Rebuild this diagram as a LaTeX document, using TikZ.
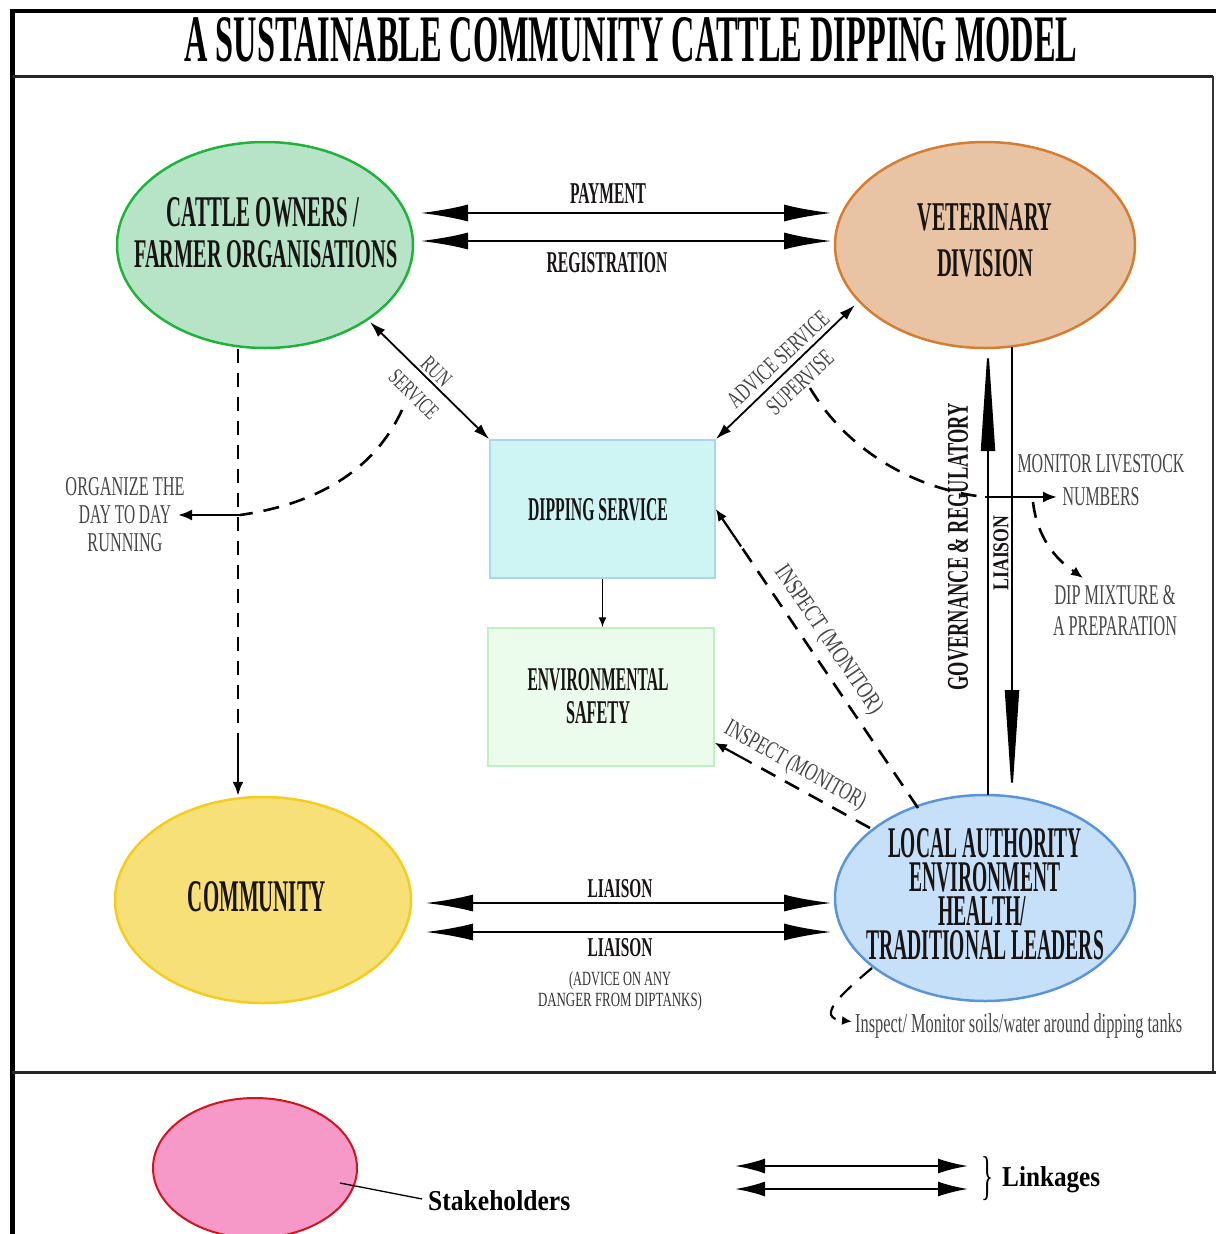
\documentclass[tikz,border=0pt]{standalone}
\usepackage{fontspec}
\setmainfont{Liberation Serif}
\usepackage{graphicx}
\usetikzlibrary{shapes.geometric,arrows.meta,calc}

\definecolor{coFill}{RGB}{183,228,199}
\definecolor{coLine}{RGB}{30,180,60}
\definecolor{vetFill}{RGB}{232,196,164}
\definecolor{vetLine}{RGB}{214,125,50}
\definecolor{comFill}{RGB}{248,224,120}
\definecolor{comLine}{RGB}{245,205,30}
\definecolor{laFill}{RGB}{199,224,250}
\definecolor{laLine}{RGB}{90,150,215}
\definecolor{dipFill}{RGB}{206,244,244}
\definecolor{dipLine}{RGB}{170,215,235}
\definecolor{envFill}{RGB}{235,252,236}
\definecolor{envLine}{RGB}{190,240,195}
\definecolor{pinkFill}{RGB}{247,153,200}
\definecolor{pinkLine}{RGB}{210,20,30}
\definecolor{labGray}{RGB}{70,70,70}
\definecolor{darkTxt}{RGB}{25,20,20}

\newcommand\fitb[3]{\resizebox{#1pt}{#2pt}{\bfseries #3}}
\newcommand\fitr[3]{\resizebox{#1pt}{#2pt}{#3}}

\tikzset{
  stake/.style={ellipse, line width=2.5pt, minimum width=296pt, minimum height=206pt, inner sep=0pt},
  procbox/.style={rectangle, line width=1.5pt, minimum width=225pt, minimum height=138pt, inner sep=0pt},
  lbl/.style={inner sep=0pt, text=darkTxt},
  notetxt/.style={inner sep=0pt, text=labGray},
  twoline/.style={align=center, font=\fontsize{10pt}{32pt}\selectfont},
  linkarrow/.style={line width=2.8pt, {Latex[length=48pt,width=17pt]}-{Latex[length=48pt,width=17pt]}},
  thinlink/.style={line width=1.8pt, {Latex[length=16pt,width=10pt]}-{Latex[length=16pt,width=10pt]}},
  dashline/.style={line width=2.6pt, dash pattern=on 16pt off 11pt},
  vdash/.style={line width=2.4pt, dash pattern=on 14pt off 10pt},
  arr/.style={line width=2.4pt, -{Latex[length=14pt,width=11pt]}},
  smallarr/.style={line width=2.2pt, -{Latex[length=12pt,width=10pt]}},
  vlong/.style={line width=2pt, -{Triangle[length=108pt,width=14pt]}},
  legarrow/.style={line width=2.2pt, {Latex[length=30pt,width=15pt]}-{Latex[length=30pt,width=15pt]}},
}

\begin{document}
\begin{tikzpicture}[x=1pt, y=-1pt]
\useasboundingbox (0,0) rectangle (1216,1234);
\fill[white] (0,0) rectangle (1216,1234);

% frame
\draw[line width=4pt] (10,11) -- (1216,11);
\draw[line width=5pt] (12,9) -- (12,1234);
\draw[line width=3pt, black!85] (12,76) -- (1213,76);
\draw[line width=2pt, black!80] (1213,76) -- (1213,1072);
\draw[line width=3pt, black!85] (12,1072) -- (1216,1072);

% title
\node[lbl, text=black] (title) at (631,40) {\fitb{893}{44}{A SUSTAINABLE COMMUNITY CATTLE DIPPING MODEL}};

% stakeholders
\node[stake, draw=coLine, fill=coFill] (co) at (265,245) {};
\node[stake, draw=vetLine, fill=vetFill, minimum width=300pt] (vet) at (985,245) {};
\node[stake, draw=comLine, fill=comFill] (com) at (263,900) {};
\node[stake, draw=laLine, fill=laFill, minimum width=300pt] (la) at (985,898) {};

\node[lbl] (co1) at (263,212) {\fitb{193}{29}{CATTLE OWNERS /}};
\node[lbl] (co2) at (266,254) {\fitb{263}{27}{FARMER ORGANISATIONS}};
\node[lbl] (vet1) at (985,217) {\fitb{135}{27}{VETERINARY}};
\node[lbl] (vet2) at (985,263) {\fitb{96}{27}{DIVISION}};
\node[lbl] (com1) at (257,897) {\fitb{138}{30}{COMMUNITY}};
\node[lbl] (la1) at (985,843) {\fitb{194}{29}{LOCAL AUTHORITY}};
\node[lbl] (la2) at (985,877) {\fitb{151}{29}{ENVIRONMENT}};
\node[lbl] (la3) at (982,911) {\fitb{88}{29}{HEALTH/}};
\node[lbl] (la4) at (985,945) {\fitb{238}{29}{TRADITIONAL LEADERS}};

% process boxes
\node[procbox, draw=dipLine, fill=dipFill] (dip) at (602.5,509) {};
\node[procbox, draw=envLine, fill=envFill, minimum width=226pt] (env) at (601,697) {};
\node[lbl] (dip1) at (598,510) {\fitb{140}{22}{DIPPING SERVICE}};
\node[lbl] (env1) at (598,680) {\fitb{141}{22}{ENVIRONMENTAL}};
\node[lbl] (env2) at (598,713) {\fitb{64}{22}{SAFETY}};

% linkages top
\draw[linkarrow] ([shift={(155,-32)}]co.center) -- ([shift={(-153,-32)}]vet.center);
\draw[linkarrow] ([shift={(155,-4)}]co.center) -- ([shift={(-153,-4)}]vet.center);
\node[lbl] (pay) at (608,193) {\fitb{76}{20}{PAYMENT}};
\node[lbl] (reg) at (607,263) {\fitb{121}{20}{REGISTRATION}};

% linkages bottom
\draw[linkarrow] ([shift={(162,3)}]com.center) -- ([shift={(-153,5)}]la.center);
\draw[linkarrow] ([shift={(162,32)}]com.center) -- ([shift={(-153,34)}]la.center);
\node[lbl] (li1) at (620,889) {\fitb{65}{18}{LIAISON}};
\node[lbl] (li2) at (620,948) {\fitb{65}{18}{LIAISON}};
\node[notetxt, text=black!80, align=center, font=\fontsize{10pt}{21pt}\selectfont] (adv) at (620,991) {\fitr{102}{14}{(ADVICE ON ANY}\\\fitr{164}{14}{DANGER FROM DIPTANKS)}};

% run service
\draw[thinlink] ([shift={(105,77)}]co.center) -- (dip.north west);
\node[notetxt, twoline, rotate=-44.5] (run) at (425,383) {\fitr{33}{15}{RUN}\\\fitr{60}{15}{SERVICE}};

% advice service
\draw[thinlink] ([shift={(-130,60)}]vet.center) -- (dip.north east);
\node[notetxt, twoline, rotate=43] (advs) at (789,371) {\fitr{130}{16}{ADVICE SERVICE}\\\fitr{82}{16}{SUPERVISE}};

% dipping -> environmental
\draw[line width=1.5pt, -{Latex[length=10pt,width=8pt]}] (dip.south) -- (dip.south |- env.north);

% governance & liaison verticals
\draw[vlong] ([shift={(3,-103)}]la.center) -- ([shift={(3,98)}]vet.center);
\draw[vlong] ([shift={(27,102)}]vet.center) -- ([shift={(27,-100)}]la.center);
\node[lbl, rotate=90] (gov) at (958,547) {\fitb{287}{20}{GOVERNANCE \& REGULATORY}};
\node[lbl, rotate=90] (lv) at (1001,553) {\fitb{75}{15}{LIAISON}};

% cattle owners -> community (dashed)
\coordinate (cd0) at ([xshift=-27pt]co.south);
\coordinate (cd1) at ($(com.north)+(-25,-55)$);
\draw[vdash] (cd0) -- (cd1);
\draw[arr] (cd1) -- ([xshift=-25pt]com.north);

% organize day to day running
\node[notetxt, align=center, font=\fontsize{10pt}{28pt}\selectfont] (org) at (125,515) {\fitr{119}{18}{ORGANIZE THE}\\\fitr{92}{18}{DAY TO DAY}\\\fitr{75}{18}{RUNNING}};
\coordinate (os) at (402,410);
\coordinate (oj) at (240,515);
\draw[dashline] (os) .. controls (372,475) and (310,505) .. (oj);
\draw[arr] (oj) -- (178,515);

% monitor livestock numbers
\node[notetxt, align=center, font=\fontsize{10pt}{33pt}\selectfont] (mon) at (1101,480) {\fitr{167}{18}{MONITOR LIVESTOCK}\\\fitr{77}{18}{NUMBERS}};
\node[notetxt, align=center, font=\fontsize{10pt}{31pt}\selectfont] (dm) at (1115,611) {\fitr{121}{19}{DIP MIXTURE \&}\\\fitr{124}{19}{A PREPARATION}};
\coordinate (ms) at (810,388);
\coordinate (mj) at (985,497);
\coordinate (me) at (1057,497);
\draw[dashline] (ms) .. controls (850,455) and (920,490) .. (mj);
\draw[arr] (mj) -- (me);
\coordinate (mb) at (1033,502);
\coordinate (mbm) at (1072,570);
\coordinate (mbe) at (1083,578);
\draw[dashline] (mb) .. controls (1036,530) and (1050,555) .. (mbm);
\draw[smallarr] (mbm) -- (mbe);

% inspect (monitor) -> dipping service
\coordinate (iu0) at ([shift={(-67,-90)}]la.center);
\coordinate (iu1) at ($(dip.east)!45pt!(iu0)$);
\draw[dashline] (iu0) -- (iu1);
\draw[smallarr] (iu1) -- (dip.east);
\node[notetxt, rotate=-55.7] (ins1) at (828,640) {\fitr{174}{17}{INSPECT (MONITOR)}};

% inspect (monitor) -> environmental safety
\coordinate (il0) at ([shift={(-115,-70)}]la.center);
\coordinate (ilt) at ([yshift=24pt]env.south east);
\coordinate (il1) at ($(ilt)!42pt!(il0)$);
\draw[dashline] (il0) -- (il1);
\draw[smallarr] (il1) -- (ilt);
\node[notetxt, rotate=-29] (ins2) at (795,766) {\fitr{158}{17}{INSPECT (MONITOR)}};

% inspect soils
\node[notetxt, anchor=base west] (soil) at (855,1032) {\fitr{327}{19}{Inspect/ Monitor soils/water around dipping tanks}};
\coordinate (ss) at ([shift={(-113,70)}]la.center);
\draw[dashline, line width=2.2pt, -{Latex[length=10pt,width=9pt]}] (ss) .. controls (840,995) and (815,1018) .. ([shift={(-3,-4)}]soil.west);

% legend
\node[ellipse, draw=pinkLine, fill=pinkFill, line width=2pt, minimum width=204pt, minimum height=140pt, inner sep=0pt] (leg) at (255,1168) {};
\node[lbl, anchor=base west, text=black] (stk) at (428,1210) {\fitb{142}{20}{Stakeholders}};
\draw[line width=1.3pt, shorten >=6pt] ([shift={(85,15)}]leg.center) -- (stk.west);
\coordinate (lk1a) at (735,1166);
\coordinate (lk1b) at (968,1166);
\coordinate (lk2a) at (735,1189);
\coordinate (lk2b) at (968,1189);
\draw[legarrow] (lk1a) -- (lk1b);
\draw[legarrow] (lk2a) -- (lk2b);
\node[lbl, text=black] (brace) at (987,1179) {\resizebox*{12pt}{44pt}{\}}};
\node[lbl, anchor=base west, text=black] (lnk) at (1002,1186) {\fitb{98}{20}{Linkages}};
\end{tikzpicture}
\end{document}
